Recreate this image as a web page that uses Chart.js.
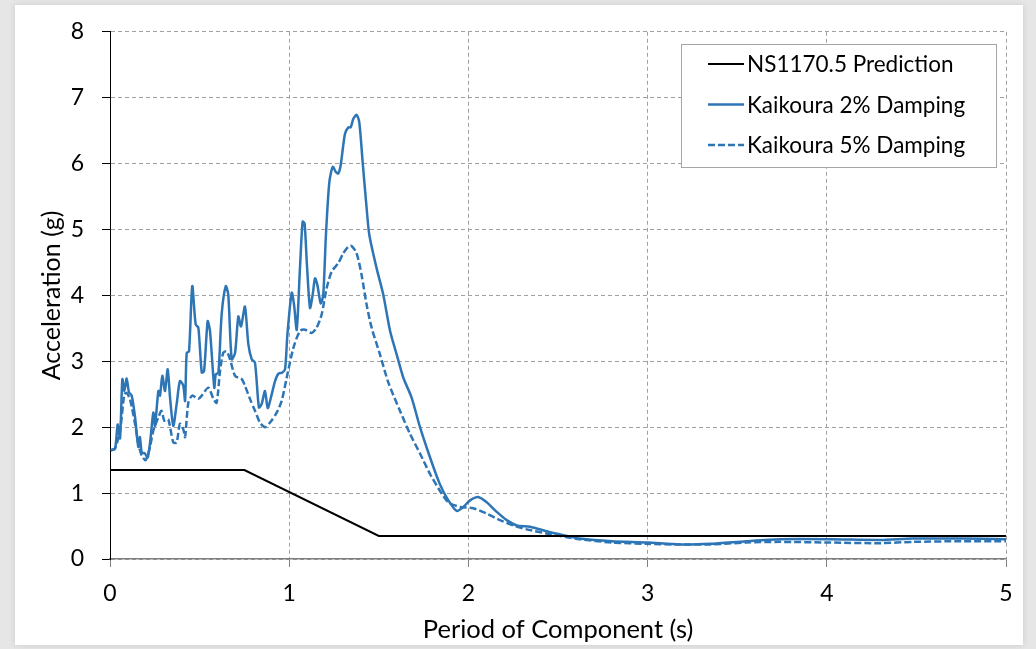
<!DOCTYPE html>
<html>
<head>
<meta charset="utf-8">
<script src="https://cdn.jsdelivr.net/npm/chart.js@4.4.1/dist/chart.umd.min.js"></script>
<style>
    html, body { margin: 0; padding: 0; }
    body { width: 1036px; height: 649px; background: #e6e6e6; position: relative; overflow: hidden; }
    #card { position: absolute; left: 15px; top: 5px; width: 1008px; height: 640px; background: #fff; box-shadow: 0 0 6px rgba(0,0,0,0.12); }
    #chart { position: absolute; left: 0; top: 0; }
</style>
</head>
<body>
<div id="card"></div>
<canvas id="chart" width="1036" height="649"></canvas>
<script>
// NS1170.5 design spectrum
const periodsNS = [0, 0.75, 1.5, 5];
const accNS = [1.35, 1.35, 0.35, 0.35];

// Kaikoura, 2% damping
const periods2 = [0.005, 0.028, 0.043, 0.056, 0.069, 0.080, 0.093, 0.106, 0.121, 0.140,
    0.158, 0.167, 0.177, 0.195, 0.210, 0.223, 0.242, 0.251, 0.270, 0.279,
    0.292, 0.307, 0.322, 0.335, 0.353, 0.372, 0.390, 0.409, 0.419, 0.428,
    0.441, 0.459, 0.478, 0.493, 0.512, 0.525, 0.545, 0.558, 0.582, 0.590,
    0.605, 0.623, 0.646, 0.660, 0.679, 0.698, 0.716, 0.731, 0.753, 0.772,
    0.791, 0.809, 0.831, 0.846, 0.865, 0.880, 0.898, 0.921, 0.939, 0.962,
    0.977, 0.990, 1.014, 1.027, 1.042, 1.060, 1.075, 1.086, 1.098, 1.116,
    1.131, 1.144, 1.157, 1.176, 1.190, 1.205, 1.224, 1.243, 1.261, 1.274,
    1.287, 1.311, 1.330, 1.343, 1.358, 1.376, 1.391, 1.410, 1.429, 1.447,
    1.488, 1.525, 1.563, 1.600, 1.637, 1.683, 1.730, 1.786, 1.840, 1.888,
    1.935, 1.972, 2.009, 2.055, 2.102, 2.148, 2.214, 2.270, 2.344, 2.45,
    2.55, 2.62, 2.80, 3.00, 3.18, 3.35, 3.55, 3.74, 4.02, 4.30,
    4.48, 4.75, 5.00];
const acc2 = [1.65, 1.67, 2.04, 1.83, 2.73, 2.55, 2.74, 2.53, 2.48, 2.15,
    1.70, 1.85, 1.62, 1.60, 1.54, 1.75, 2.22, 2.02, 2.55, 2.48,
    2.78, 2.55, 2.88, 2.45, 2.02, 2.35, 2.70, 2.63, 2.40, 3.13,
    3.15, 4.14, 3.56, 3.51, 2.83, 2.85, 3.61, 3.46, 2.60, 2.80,
    2.83, 3.71, 4.14, 4.01, 3.03, 3.13, 3.68, 3.53, 3.83, 3.26,
    3.03, 2.98, 2.30, 2.35, 2.55, 2.29, 2.45, 2.70, 2.81, 2.83,
    2.88, 3.41, 4.04, 3.86, 3.48, 4.41, 5.12, 5.09, 4.51, 3.81,
    4.01, 4.26, 4.16, 3.88, 4.01, 4.92, 5.72, 5.95, 5.87, 5.85,
    5.97, 6.45, 6.55, 6.55, 6.68, 6.74, 6.63, 6.02, 5.42, 4.92,
    4.41, 4.01, 3.46, 3.10, 2.75, 2.45, 2.00, 1.54, 1.14, 0.89,
    0.73, 0.79, 0.89, 0.94, 0.86, 0.74, 0.59, 0.51, 0.49, 0.41,
    0.35, 0.31, 0.27, 0.25, 0.22, 0.23, 0.27, 0.30, 0.30, 0.29,
    0.31, 0.31, 0.30];

// Kaikoura, 5% damping
const periods5 = [0.005, 0.028, 0.056, 0.080, 0.093, 0.112, 0.140, 0.158, 0.177, 0.199,
    0.223, 0.242, 0.270, 0.288, 0.303, 0.325, 0.353, 0.372, 0.390, 0.409,
    0.419, 0.437, 0.459, 0.493, 0.512, 0.549, 0.577, 0.595, 0.614, 0.632,
    0.651, 0.670, 0.698, 0.735, 0.753, 0.781, 0.809, 0.837, 0.865, 0.893,
    0.930, 0.958, 0.986, 1.023, 1.060, 1.088, 1.125, 1.153, 1.181, 1.209,
    1.237, 1.274, 1.302, 1.330, 1.348, 1.376, 1.404, 1.432, 1.460, 1.507,
    1.553, 1.618, 1.674, 1.730, 1.786, 1.840, 1.888, 1.953, 2.027, 2.102,
    2.176, 2.250, 2.325, 2.45, 2.55, 2.62, 2.80, 3.00, 3.18, 3.35,
    3.55, 3.74, 4.02, 4.30, 4.48, 4.75, 5.00];
const acc5 = [1.65, 1.68, 1.95, 2.50, 2.52, 2.42, 2.05, 1.75, 1.57, 1.50,
    1.70, 1.95, 2.15, 2.25, 2.10, 2.12, 1.77, 1.77, 2.05, 1.97,
    1.85, 2.37, 2.48, 2.43, 2.48, 2.60, 2.43, 2.37, 2.85, 3.13,
    3.15, 3.03, 2.78, 2.73, 2.63, 2.43, 2.25, 2.07, 2.00, 2.07,
    2.22, 2.40, 2.75, 3.20, 3.46, 3.48, 3.43, 3.51, 3.71, 4.11,
    4.36, 4.49, 4.64, 4.74, 4.75, 4.64, 4.31, 3.86, 3.51, 3.10,
    2.68, 2.25, 1.90, 1.60, 1.29, 1.04, 0.86, 0.79, 0.77, 0.69,
    0.59, 0.51, 0.45, 0.38, 0.33, 0.30, 0.25, 0.23, 0.22, 0.22,
    0.25, 0.26, 0.25, 0.24, 0.26, 0.27, 0.27];

const seriesLabels = ["NS1170.5 Prediction", "Kaikoura 2% Damping", "Kaikoura 5% Damping"];
const xTicks = [0, 1, 2, 3, 4, 5];
const yTicks = [0, 1, 2, 3, 4, 5, 6, 7, 8];

const FONT = "Lato, 'Open Sans', sans-serif";
const BLUE = "#2e75b6";

function toPoints(xs, ys) {
    return xs.map((x, i) => ({ x: x, y: ys[i] }));
}

// legend box drawn inside the plot, top right
const boxLegend = {
    id: "boxLegend",
    afterDraw(chart) {
        const ctx = chart.ctx;
        const x0 = 681, y0 = 44, w = 315, h = 123;
        ctx.save();
        ctx.fillStyle = "#fff";
        ctx.fillRect(x0, y0, w, h);
        ctx.strokeStyle = "#a6a6a6";
        ctx.lineWidth = 1;
        ctx.strokeRect(x0 + 0.5, y0 + 0.5, w, h);
        ctx.font = `22.5px ${FONT}`;
        ctx.textBaseline = "middle";
        chart.data.datasets.forEach((ds, i) => {
            const y = 64 + i * 40.5;
            ctx.beginPath();
            ctx.strokeStyle = ds.borderColor;
            ctx.lineWidth = ds.borderWidth;
            ctx.setLineDash(ds.borderDash || []);
            ctx.moveTo(708, y);
            ctx.lineTo(744, y);
            ctx.stroke();
            ctx.setLineDash([]);
            ctx.fillStyle = "#000";
            ctx.fillText(ds.label, 747, y + 1);
        });
        ctx.restore();
    }
};

new Chart(document.getElementById("chart"), {
    type: "line",
    data: {
        datasets: [{
            label: seriesLabels[0],
            data: toPoints(periodsNS, accNS),
            borderColor: "#000",
            borderWidth: 2,
            tension: 0
        }, {
            label: seriesLabels[1],
            data: toPoints(periods2, acc2),
            borderColor: BLUE,
            borderWidth: 2.5,
            tension: 0.25
        }, {
            label: seriesLabels[2],
            data: toPoints(periods5, acc5),
            borderColor: BLUE,
            borderWidth: 2.5,
            borderDash: [7, 3],
            tension: 0.25
        }]
    },
    options: {
        responsive: false,
        animation: false,
        layout: { padding: { top: 29, right: 30, left: 0, bottom: 0 } },
        elements: { point: { radius: 0 } },
        plugins: { legend: { display: false }, tooltip: { enabled: false } },
        scales: {
            x: {
                type: "linear",
                min: 0,
                max: 5,
                afterFit: s => { s.height = 90; },
                afterBuildTicks: s => { s.ticks = xTicks.map(v => ({ value: v })); },
                grid: { color: "#a0a0a0", lineWidth: 1, tickLength: 8, tickColor: "#808080" },
                border: { color: "#808080", width: 1.5, dash: [4, 3] },
                ticks: { color: "#000", padding: 13, font: { family: FONT, size: 23 } },
                title: {
                    display: true,
                    text: "Period of Component (s)",
                    color: "#000",
                    font: { family: FONT, size: 25.5 },
                    padding: { top: 0, bottom: 4 }
                }
            },
            y: {
                min: 0,
                max: 8,
                afterFit: s => { s.width = 110; },
                afterBuildTicks: s => { s.ticks = yTicks.map(v => ({ value: v })); },
                grid: { color: "#a0a0a0", lineWidth: 1, tickLength: 8, tickColor: "#000" },
                border: { color: "#000", width: 1, dash: [4, 3] },
                ticks: { color: "#000", padding: 18, font: { family: FONT, size: 23 } },
                title: {
                    display: true,
                    text: "Acceleration (g)",
                    color: "#000",
                    font: { family: FONT, size: 25 },
                    padding: { top: 37, bottom: 0 }
                }
            }
        }
    },
    plugins: [boxLegend]
});
</script>
</body>
</html>
